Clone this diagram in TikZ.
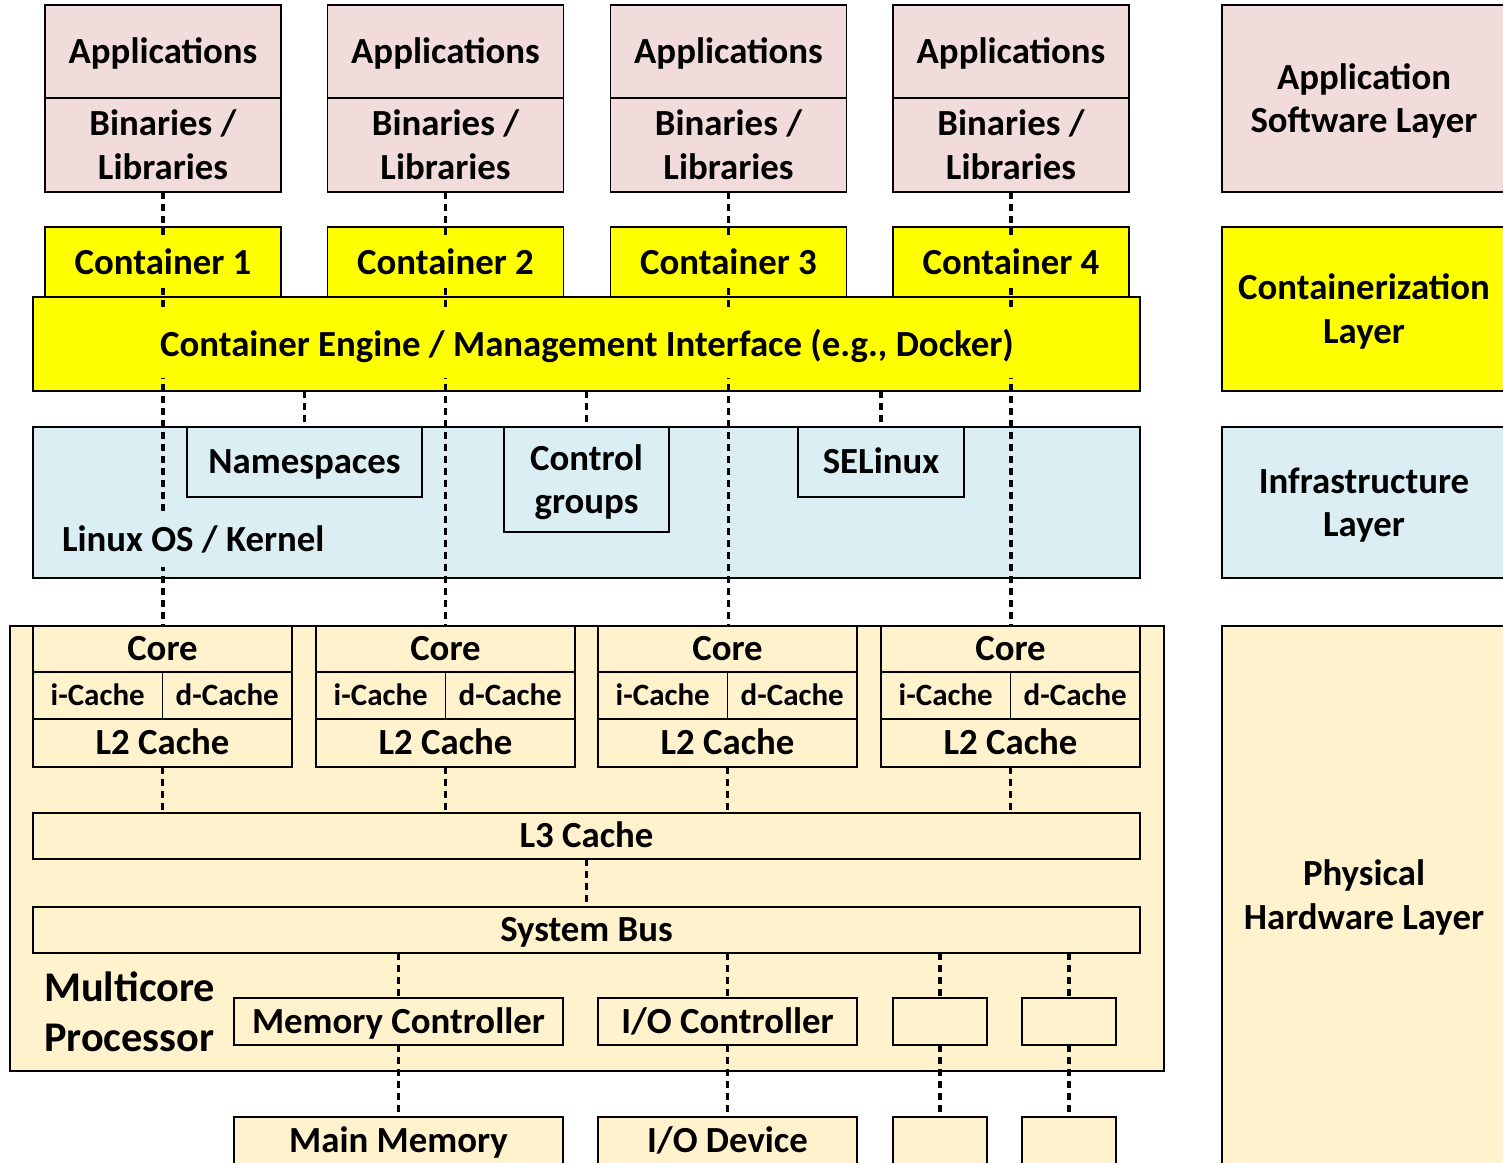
\documentclass[tikz,border=0pt]{standalone}
\usepackage{fontspec}
\setmainfont{Carlito}

\definecolor{apppink}{HTML}{F2DCDB}
\definecolor{contyellow}{HTML}{FFFF00}
\definecolor{infrablue}{HTML}{DAEEF3}
\definecolor{hwbeige}{HTML}{FFF2CC}

% struts that centre capital letters on the node centre
\newcommand\capstrut{\rule[-0.225em]{0pt}{1.09em}}
% strut for the first line of two-line texts
\newcommand\tallstrut{\rule{0pt}{0.9em}}

\tikzset{
  every node/.style={font=\bfseries\fontsize{36.8}{43.2}\selectfont,
    execute at begin node=\capstrut, execute at end node=\capstrut},
  blk/.style={draw=black, line width=1.8pt, outer sep=0pt, inner sep=0pt, align=center},
  appblk/.style={blk, fill=apppink},
  conblk/.style={blk, fill=contyellow},
  infblk/.style={blk, fill=infrablue},
  hwblk/.style={blk, fill=hwbeige},
  smalltxt/.style={font=\bfseries\fontsize{31}{37}\selectfont},
  link/.style={draw=black, line width=3.6pt, dash pattern=on 7pt off 5pt},
  lbl/.style={inner xsep=4pt, inner ysep=4pt, outer sep=0pt}
}

\begin{document}
\begin{tikzpicture}[x=1pt,y=-1pt]
\useasboundingbox (0,0) rectangle (1503,1162);
\clip (0,0) rectangle (1503,1162);

% ---- layer legend on the right ----
\node[appblk, minimum width=284pt, minimum height=187pt] (Lapp) at (1364,98.5) {\tallstrut Application\\Software Layer};
\node[conblk, minimum width=284pt, minimum height=164pt] (Lcon) at (1364,309) {\tallstrut Containerization\\Layer};
\node[infblk, minimum width=284pt, minimum height=151pt] (Linf) at (1364,502.5) {\tallstrut Infrastructure\\Layer};
\node[hwblk, minimum width=284pt, minimum height=538pt] (Lhw) at (1364,895) {\tallstrut Physical\\Hardware Layer};

% ---- applications and containers ----
\foreach \i/\cx in {1/163,2/445.5,3/728.5,4/1011} {
  \node[appblk, minimum width=236pt, minimum height=93pt] (app\i) at (\cx,51.5) {Applications};
  \node[appblk, minimum width=236pt, minimum height=94pt] (bin\i) at (\cx,145) {\tallstrut Binaries /\\Libraries};
  \node[conblk, minimum width=236pt, minimum height=70pt] (con\i) at (\cx,262) {};
}

% ---- container engine ----
\node[conblk, minimum width=1107pt, minimum height=94pt] (engine) at (586.5,344) {};

% ---- kernel and its features ----
\node[infblk, minimum width=1107pt, minimum height=151pt] (kernel) at (586.5,502.5) {};
\node[infblk, minimum width=235pt, minimum height=70pt] (ns) at (304.5,462) {Namespaces};
\node[infblk, minimum width=165pt, minimum height=105pt] (cg) at (586.5,479.5) {\tallstrut Control\\groups};
\node[infblk, minimum width=166pt, minimum height=70pt] (se) at (881,462) {SELinux};

% ---- multicore processor ----
\node[hwblk, minimum width=1154pt, minimum height=445pt] (cpu) at (587,848.5) {};
\foreach \i/\cx in {1/162.5,2/445.5,3/727.5,4/1010.5} {
  \node[hwblk, minimum width=259pt, minimum height=46pt] (core\i) at (\cx,649) {Core};
  \node[hwblk, smalltxt, minimum width=129.5pt, minimum height=47pt] (ic\i) at (\cx-64.75,695.5) {i-Cache};
  \node[hwblk, smalltxt, minimum width=129.5pt, minimum height=47pt] (dc\i) at (\cx+64.75,695.5) {d-Cache};
  \node[hwblk, minimum width=259pt, minimum height=48pt] (l2\i) at (\cx,743) {L2 Cache};
}
\node[hwblk, minimum width=1107pt, minimum height=46pt] (l3) at (586.5,836) {L3 Cache};
\node[hwblk, minimum width=1107pt, minimum height=46pt] (bus) at (586.5,930) {System Bus};
\node[hwblk, minimum width=329pt, minimum height=47pt] (mc) at (398.5,1021.5) {Memory Controller};
\node[hwblk, minimum width=259pt, minimum height=47pt] (ioc) at (727.5,1021.5) {I/O Controller};
\node[hwblk, minimum width=94pt, minimum height=47pt] (xc1) at (940,1021.5) {};
\node[hwblk, minimum width=94pt, minimum height=47pt] (xc2) at (1069,1021.5) {};
\node[align=left, anchor=west, inner sep=0pt, font=\bfseries\fontsize{42.3}{50}\selectfont] (mcp) at (44,1012) {\tallstrut Multicore\\Processor};

% ---- devices below the processor ----
\node[hwblk, minimum width=329pt, minimum height=53pt] (mm) at (398.5,1143.5) {};
\node[hwblk, minimum width=259pt, minimum height=53pt] (iod) at (727.5,1143.5) {};
\node[hwblk, minimum width=94pt, minimum height=53pt] (xd1) at (940,1143.5) {};
\node[hwblk, minimum width=94pt, minimum height=53pt] (xd2) at (1069,1143.5) {};

% ---- dotted connections ----
\foreach \i in {1,2,3,4} {
  \draw[link] (bin\i.south) -- (bin\i.south |- core\i.north);
  \draw[link] (l2\i.south) -- (l2\i.south |- l3.north);
}
\foreach \n in {ns,cg,se} {
  \draw[link] (\n.north |- engine.south) -- (\n.north);
}
\draw[link] (l3.south) -- (bus.north);
\foreach \a/\b in {mc/mm,ioc/iod,xc1/xd1,xc2/xd2} {
  \draw[link] (\a.north |- bus.south) -- (\a.north);
  \draw[link] (\a.south) -- (\b.north);
}

% ---- labels drawn over the connections ----
\foreach \i/\cx in {1/163,2/445.5,3/728.5,4/1011} {
  \node[lbl, fill=contyellow] (ctxt\i) at (\cx,263) {Container \i};
}
\node[lbl, fill=contyellow, inner ysep=13pt] (etxt) at (587,345) {Container Engine / Management Interface (e.g., Docker)};
\node[lbl, fill=infrablue, inner ysep=6.5pt, anchor=west] (ktxt) at (58,540) {Linux OS / Kernel};
\node[lbl] (mmtxt) at (398.5,1141) {Main Memory};
\node[lbl] (iotxt) at (727.5,1141) {I/O Device};
\end{tikzpicture}
\end{document}
